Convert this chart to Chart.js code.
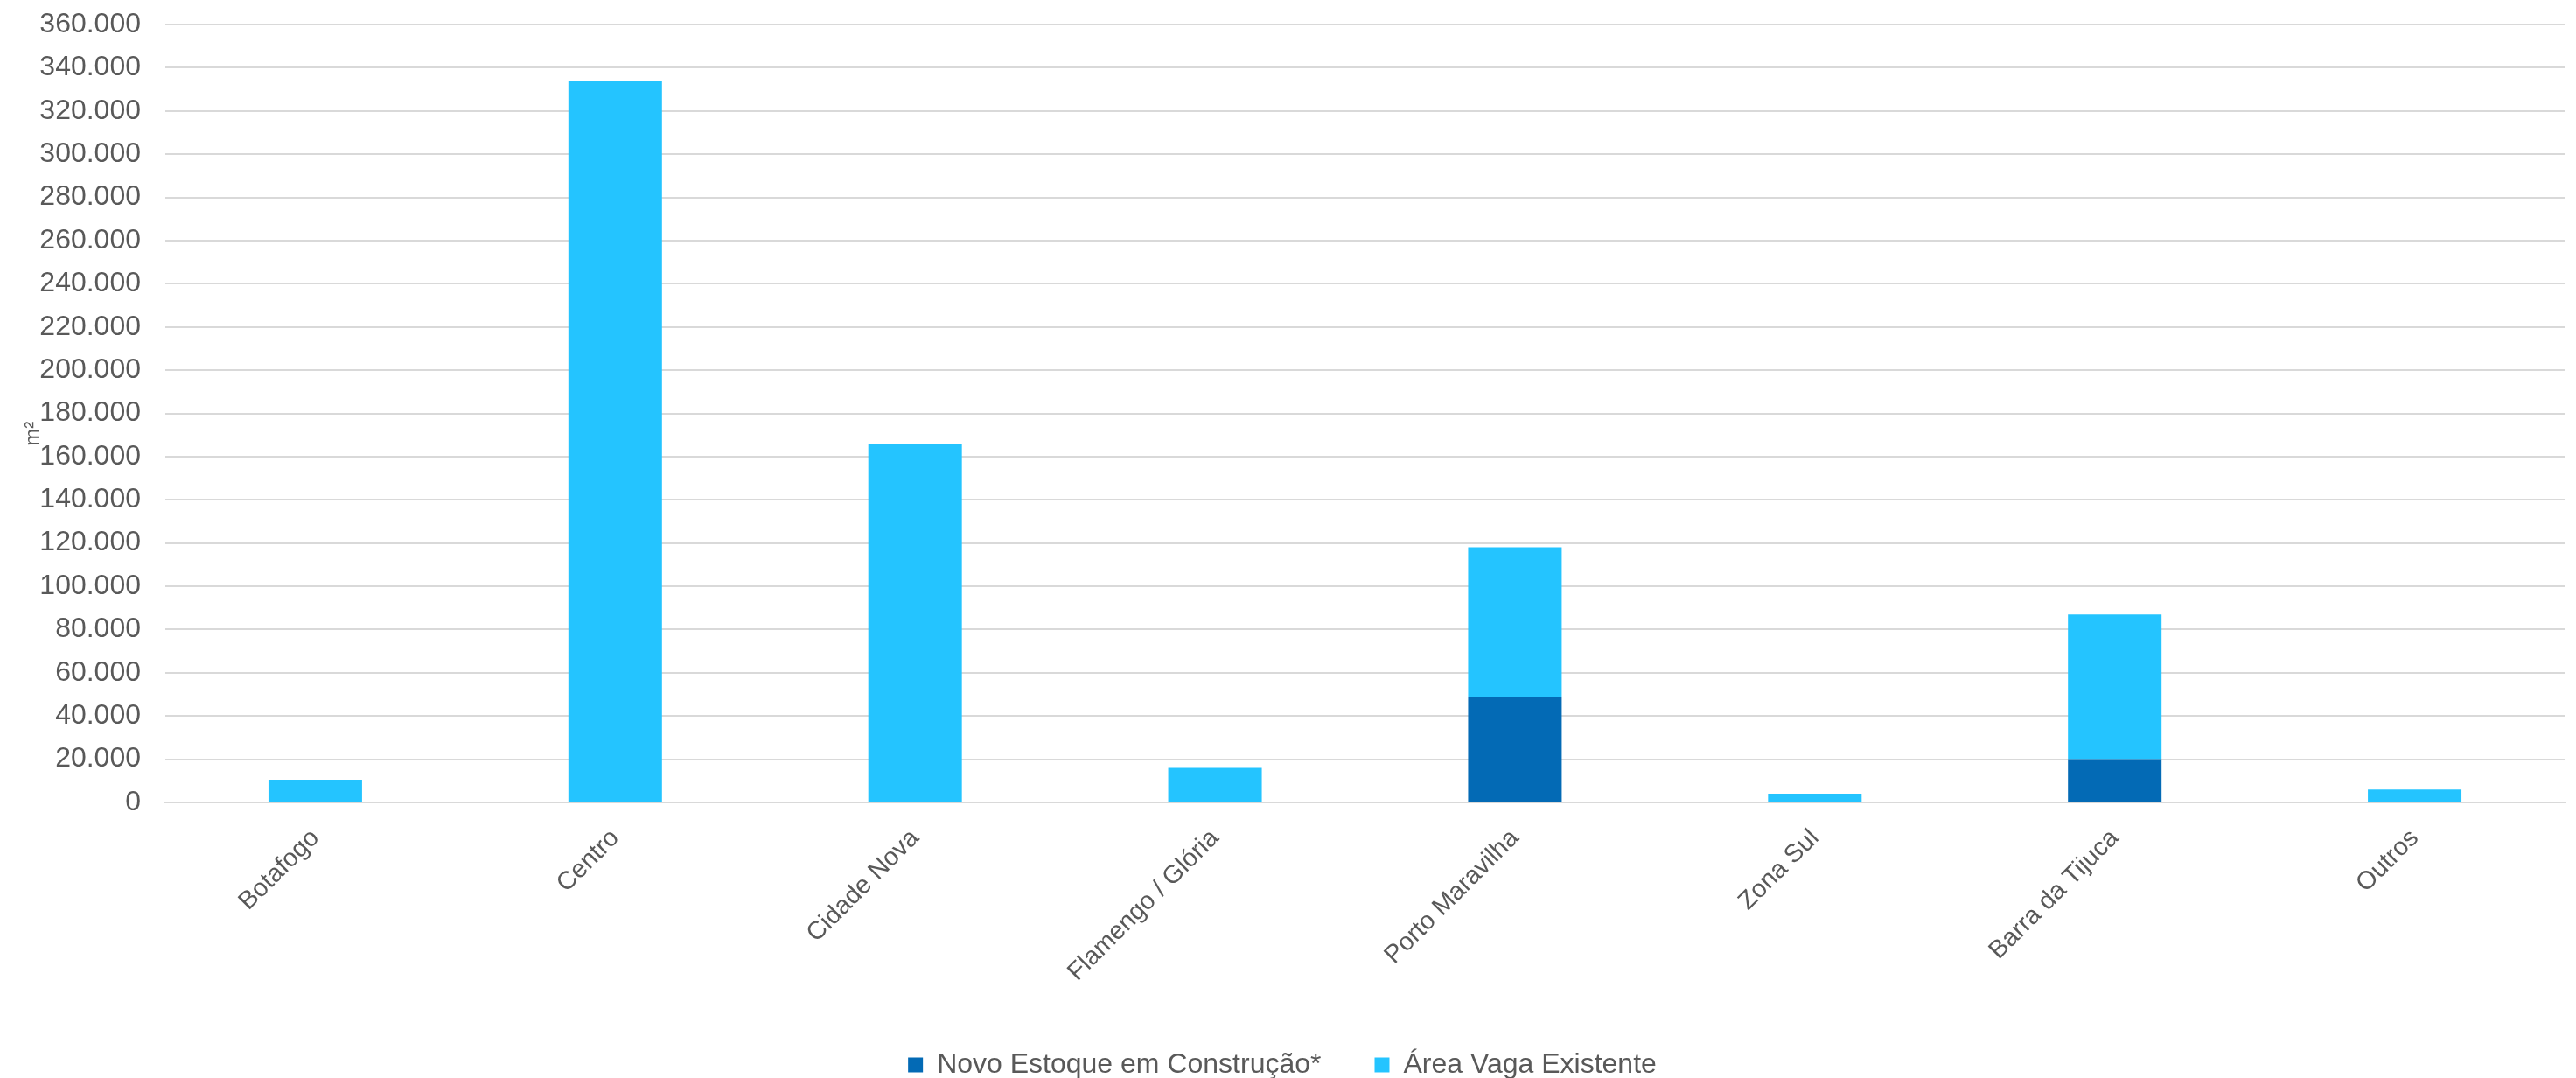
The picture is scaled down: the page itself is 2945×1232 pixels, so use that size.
<!DOCTYPE html>
<html>
<head>
<meta charset="utf-8">
<script src="https://cdn.jsdelivr.net/npm/chart.js@4/dist/chart.umd.min.js"></script>
<style>
  html, body { margin: 0; padding: 0; background: #fff; }
  #wrap { width: 2945px; height: 1232px; position: relative; }
</style>
</head>
<body>
<div id="wrap"><canvas id="chart"></canvas></div>
<script>
const categories = ['Botafogo', 'Centro', 'Cidade Nova', 'Flamengo / Glória', 'Porto Maravilha', 'Zona Sul', 'Barra da Tijuca', 'Outros'];
const novoEstoque = [0, 0, 0, 0, 49000, 0, 20000, 0];
const areaVaga = [10500, 334000, 166000, 16000, 69000, 4000, 67000, 6000];
const seriesNames = ['Novo Estoque em Construção*', 'Área Vaga Existente'];

const textColor = '#595959';
const gridColor = '#d9d9d9';

// 360000 -> "360.000"
function fmt(v) {
  return String(v).replace(/\B(?=(\d{3})+(?!\d))/g, '.');
}

Chart.defaults.font.family = '"Liberation Sans", Arial, sans-serif';
Chart.defaults.color = textColor;

new Chart(document.getElementById('chart').getContext('2d'), {
  type: 'bar',
  data: {
    labels: categories,
    datasets: [
      { label: seriesNames[0], data: novoEstoque, backgroundColor: '#036ab5' },
      { label: seriesNames[1], data: areaVaga, backgroundColor: '#24c4ff' }
    ]
  },
  options: {
    responsive: true,
    maintainAspectRatio: false,
    animation: false,
    layout: { padding: { top: 28, right: 13, left: 0, bottom: -11 } },
    datasets: { bar: { categoryPercentage: 1, barPercentage: 0.312 } },
    scales: {
      x: {
        stacked: true,
        grid: { display: false, drawTicks: false },
        border: { display: true, color: gridColor, width: 2 },
        ticks: { font: { size: 29 }, color: textColor, minRotation: 45, maxRotation: 45, padding: 24 },
        afterFit: scale => { scale.height = 223; }
      },
      y: {
        stacked: true,
        min: 0,
        max: 360000,
        grid: { color: gridColor, lineWidth: 2, drawTicks: false },
        border: { display: false },
        ticks: { stepSize: 20000, font: { size: 32 }, color: textColor, padding: 28, callback: v => fmt(v) },
        // trailing spaces nudge the rotated title a bit below the middle, like the original
        title: { display: true, text: 'm²       ', font: { size: 24 }, color: textColor, padding: { top: 24, bottom: 0 } },
        afterFit: scale => { scale.width = 189; scale.paddingTop = 0; }
      }
    },
    plugins: {
      tooltip: { enabled: false },
      legend: {
        position: 'bottom',
        labels: { boxWidth: 17, boxHeight: 17, padding: 61, font: { size: 32 }, color: textColor }
      }
    }
  }
});
</script>
</body>
</html>
